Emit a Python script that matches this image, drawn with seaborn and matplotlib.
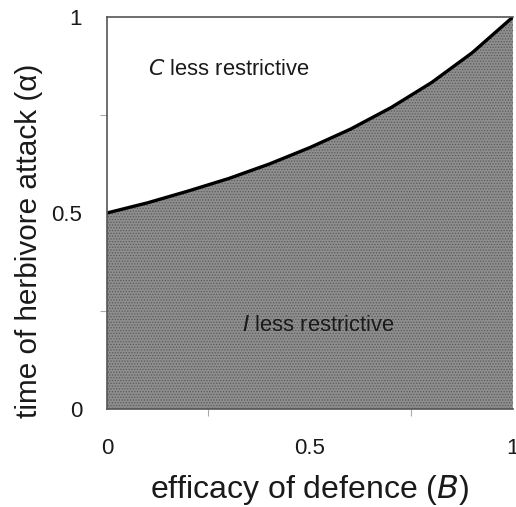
import matplotlib
matplotlib.use("Agg")
import matplotlib.pyplot as plt
import seaborn as sns
import pandas as pd
import numpy as np

# Boundary curve
efficacy_B = [0.0, 0.1, 0.2, 0.3, 0.4, 0.5, 0.6, 0.7, 0.8, 0.9, 1.0]
alpha_boundary = [0.500, 0.526, 0.556, 0.588, 0.625, 0.667, 0.714, 0.769, 0.833, 0.909, 1.0]

x_tick_labels = ["0", "0.5", "1"]
y_tick_labels = ["0", "0.5", "1"]

df = pd.DataFrame({"B": efficacy_B, "alpha": alpha_boundary})

sns.set_style("white")
plt.rcParams["font.family"] = ["Liberation Sans", "DejaVu Sans"]
plt.rcParams["hatch.color"] = "#4a4a4a"
plt.rcParams["hatch.linewidth"] = 0.6

fig = plt.figure(figsize=(5.16, 5.07), dpi=100)
ax = fig.add_axes([0.2074, 0.1933, 0.7866, 0.7732])

ax.fill_between(df["B"], 0, df["alpha"], facecolor="#8e8e8e", hatch="......",
                edgecolor="#5a5a5a", linewidth=0)
sns.lineplot(data=df, x="B", y="alpha", ax=ax, color="black", linewidth=2.4)

ax.set_xlim(0, 1)
ax.set_ylim(0, 1)

ax.set_xticks([0, 0.5, 1])
ax.set_xticklabels(x_tick_labels)
ax.set_yticks([0, 0.5, 1])
ax.set_yticklabels(y_tick_labels)
ax.set_xticks([0.25, 0.75], minor=True)
ax.set_yticks([0.25, 0.75], minor=True)

ax.tick_params(axis="x", which="major", length=0, pad=21, labelsize=16, colors="#1a1a1a")
ax.tick_params(axis="y", which="major", length=0, pad=18, labelsize=16, colors="#1a1a1a")
ax.tick_params(axis="both", which="minor", length=5, width=0.8, color="#aaaaaa", direction="out")
ax.tick_params(axis="x", which="minor", bottom=True)
ax.tick_params(axis="y", which="minor", left=True)

for side in ["left", "bottom", "top"]:
    ax.spines[side].set_visible(True)
    ax.spines[side].set_color("#555555")
    ax.spines[side].set_linewidth(1.2)
ax.spines["right"].set_visible(False)

ax.set_xlabel("efficacy of defence ($\\it{B}$)", fontsize=23, labelpad=10, color="#1a1a1a")
ax.set_ylabel("time of herbivore attack (α)", fontsize=21.4, color="#1a1a1a")
ax.yaxis.set_label_coords(-0.158, 0.43)

ax.text(0.101, 0.865, "$\\it{C}$ less restrictive", fontsize=15.8, color="#1a1a1a",
        transform=ax.transAxes, va="center", ha="left")
ax.text(0.333, 0.214, "$\\it{I}$ less restrictive", fontsize=15.8, color="#1a1a1a",
        transform=ax.transAxes, va="center", ha="left")

fig.savefig("out.png", dpi=100)
